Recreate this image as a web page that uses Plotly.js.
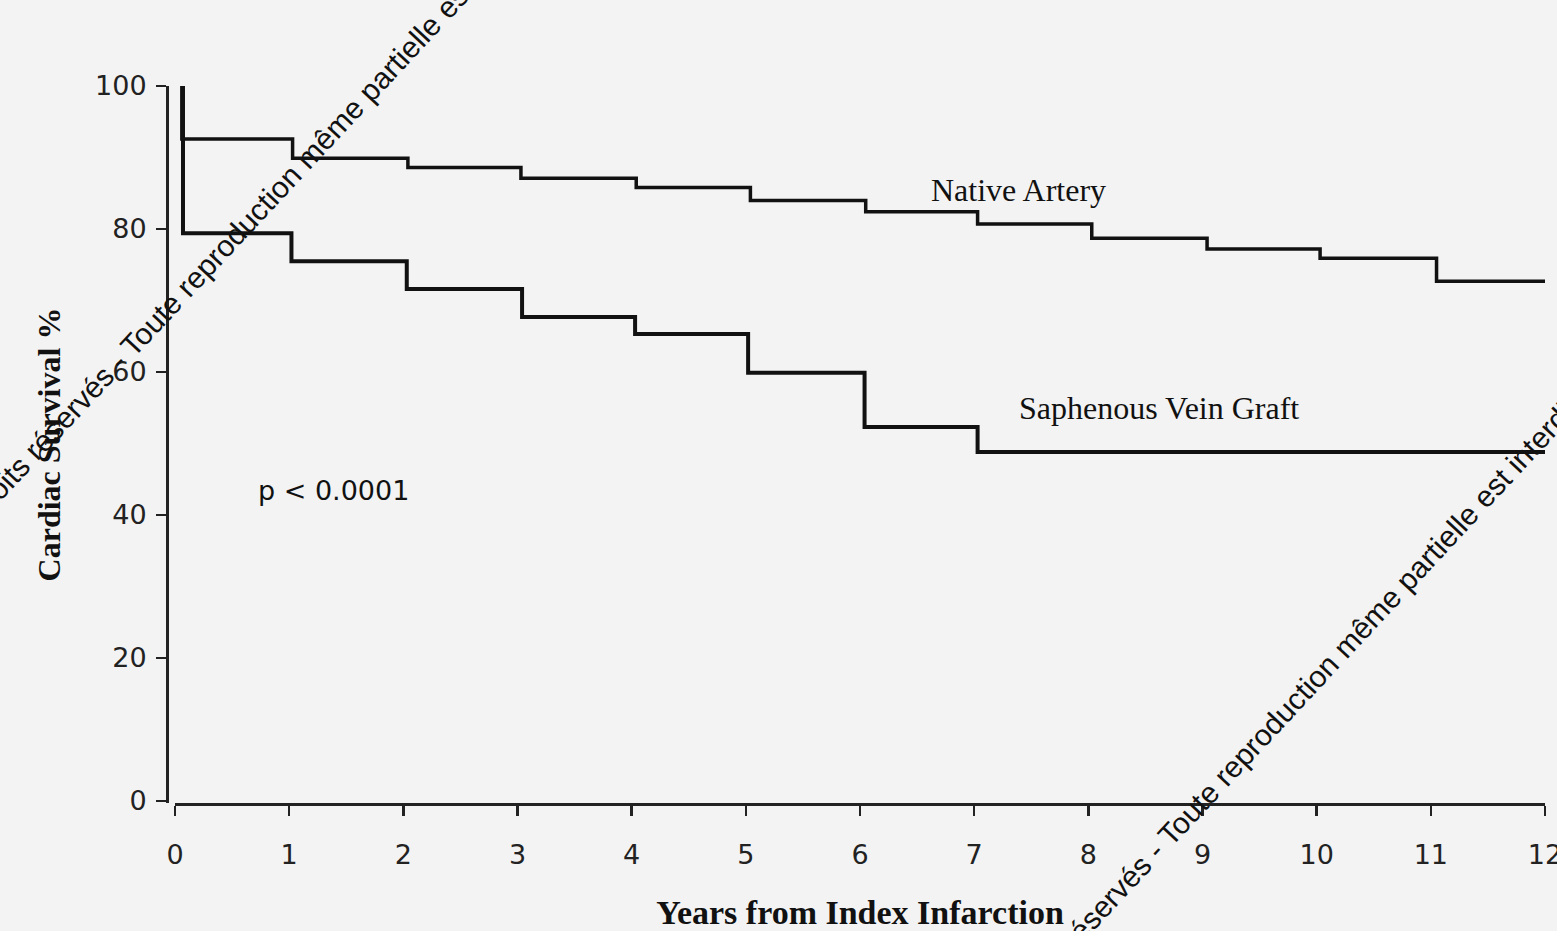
<!DOCTYPE html>
<html>
<head>
<meta charset="utf-8">
<script src="https://cdn.plot.ly/plotly-3.0.1.min.js"></script>
<style>html,body{margin:0;padding:0;background:#f3f3f3;}#chart{width:1557px;height:931px;}</style>
</head>
<body>
<div id="chart"></div>
<script>
// Kaplan-Meier survival
const nativeYears = [0.06, 0.06, 1.03, 2.04, 3.03, 4.04, 5.04, 6.05, 7.03, 8.03, 9.04, 10.03, 11.05, 12.02];
const nativeSurv  = [100, 92.6, 89.9, 88.6, 87.1, 85.8, 84.0, 82.4, 80.7, 78.7, 77.2, 75.9, 72.7, 72.7];
const sveinYears  = [0.07, 0.07, 1.02, 2.03, 3.04, 4.03, 5.02, 6.04, 7.03, 12.02];
const sveinSurv   = [100, 79.4, 75.5, 71.6, 67.7, 65.3, 59.9, 52.3, 48.8, 48.8];
const xTicks = [0,1,2,3,4,5,6,7,8,9,10,11,12];
const yTicks = [0,20,40,60,80,100];
const seriesNames = ['Native Artery', 'Saphenous Vein Graft'];
const pValueText = 'p < 0.0001';
const watermarkText = 'Tous droits réservés - Toute reproduction même partielle est interdite';

const W = 1557, H = 931;
const serif = 'Liberation Serif, Times New Roman, serif';
const sans = 'DejaVu Sans, sans-serif';
const wmFont = {family: 'Liberation Sans, Arial, sans-serif', size: 30, color: '#111'};

const traces = [
  {x: nativeYears, y: nativeSurv, mode: 'lines', line: {shape: 'hv', color: '#111', width: 3.5}, name: seriesNames[0], hoverinfo: 'skip'},
  {x: sveinYears, y: sveinSurv, mode: 'lines', line: {shape: 'hv', color: '#111', width: 4}, name: seriesNames[1], hoverinfo: 'skip'}
];

const layout = {
  width: W, height: H,
  paper_bgcolor: '#f3f3f3', plot_bgcolor: 'rgba(0,0,0,0)',
  showlegend: false,
  margin: {l: 0, r: 0, t: 86, b: 128, autoexpand: false},
  xaxis: {
    domain: [175/W, 1545/W], range: [0, 12], tickvals: xTicks, ticktext: xTicks.map(String),
    showgrid: false, zeroline: false, showline: true, linecolor: '#222', linewidth: 2.5,
    ticks: 'outside', ticklen: 10, tickwidth: 2.5, tickcolor: '#222',
    tickfont: {family: sans, size: 27, color: '#222'}, ticklabelstandoff: 16, ticklabeloverflow: 'allow',
    title: {text: 'Years from Index Infarction', font: {family: serif, size: 34, color: '#111', weight: 'bold'}, standoff: 34},
    fixedrange: true
  },
  yaxis: {
    anchor: 'free', position: 167/W, range: [-0.3, 100], tickvals: yTicks, ticktext: yTicks.map(String),
    showgrid: false, zeroline: false, showline: true, linecolor: '#222', linewidth: 2.5,
    ticks: 'outside', ticklen: 10, tickwidth: 2.5, tickcolor: '#222',
    tickfont: {family: sans, size: 27, color: '#222'}, ticklabelstandoff: 4,
    title: {text: 'Cardiac Survival %', font: {family: serif, size: 32, color: '#111', weight: 'bold'}, standoff: 24},
    fixedrange: true
  },
  annotations: [
    {x: 7.39, y: 85.5, xref: 'x', yref: 'y', text: seriesNames[0], showarrow: false, font: {family: serif, size: 32, color: '#111'}},
    {x: 8.62, y: 54.9, xref: 'x', yref: 'y', text: seriesNames[1], showarrow: false, font: {family: serif, size: 32, color: '#111'}},
    {x: 1.39, y: 43.4, xref: 'x', yref: 'y', text: pValueText, showarrow: false, font: {family: sans, size: 27, color: '#111'}},
    {x: 236/W, y: 1 - 191/H, xref: 'paper', yref: 'paper', xanchor: 'center', yanchor: 'middle', text: watermarkText, showarrow: false, textangle: -47, font: wmFont},
    {x: 1274/W, y: 1 - 827/H, xref: 'paper', yref: 'paper', xanchor: 'center', yanchor: 'middle', text: watermarkText, showarrow: false, textangle: -47, font: wmFont}
  ]
};

Plotly.newPlot('chart', traces, layout, {staticPlot: true, displayModeBar: false});
</script>
</body>
</html>
